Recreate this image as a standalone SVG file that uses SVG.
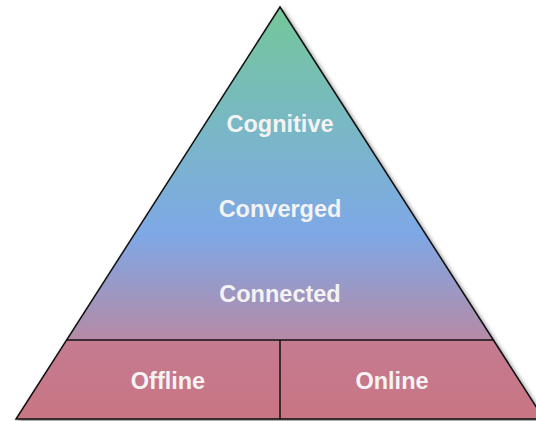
<svg xmlns="http://www.w3.org/2000/svg" width="536" height="421" viewBox="0 0 536 421">
  <defs>
    <linearGradient id="pyramidFill" x1="0" y1="7" x2="0" y2="340" gradientUnits="userSpaceOnUse">
      <stop offset="0" stop-color="#74c79a"/>
      <stop offset="0.35" stop-color="#79b8c4"/>
      <stop offset="0.68" stop-color="#7ea8e6"/>
      <stop offset="1" stop-color="#b68aa6"/>
    </linearGradient>
    <linearGradient id="baseFill" x1="0" y1="340" x2="0" y2="419" gradientUnits="userSpaceOnUse">
      <stop offset="0" stop-color="#c57b90"/>
      <stop offset="1" stop-color="#c87583"/>
    </linearGradient>
    <filter id="shadow" x="-10%" y="-10%" width="120%" height="120%">
      <feDropShadow dx="2" dy="2" stdDeviation="2" flood-color="#000" flood-opacity="0.45"/>
    </filter>
    <style>
      .edge { stroke: #111; stroke-width: 1.5; stroke-linejoin: miter; }
      .label { font-family: "Liberation Sans", Arial, Helvetica, sans-serif; font-size: 23.5px; font-weight: bold; fill: #f3f3f3; text-anchor: middle; }
    </style>
  </defs>

  <!-- pyramid body with shadow -->
  <g id="pyramid" filter="url(#shadow)">
    <polygon points="280,7 67,340 493,340" fill="url(#pyramidFill)"/>
    <polygon points="67,340 493,340 544,419 16,419" fill="url(#baseFill)"/>
    <polygon class="edge" points="280,7 544,419 16,419" fill="none"/>
  </g>

  <g id="connectors">
    <line class="edge" x1="67" y1="340" x2="493" y2="340"/>
    <line class="edge" x1="280" y1="340" x2="280" y2="419"/>
  </g>

  <g id="cognitive"><text class="label" x="280" y="132">Cognitive</text></g>
  <g id="converged"><text class="label" x="280" y="217">Converged</text></g>
  <g id="connected"><text class="label" x="280" y="302">Connected</text></g>
  <g id="offline"><text class="label" x="168" y="389">Offline</text></g>
  <g id="online"><text class="label" x="392" y="389">Online</text></g>
</svg>
